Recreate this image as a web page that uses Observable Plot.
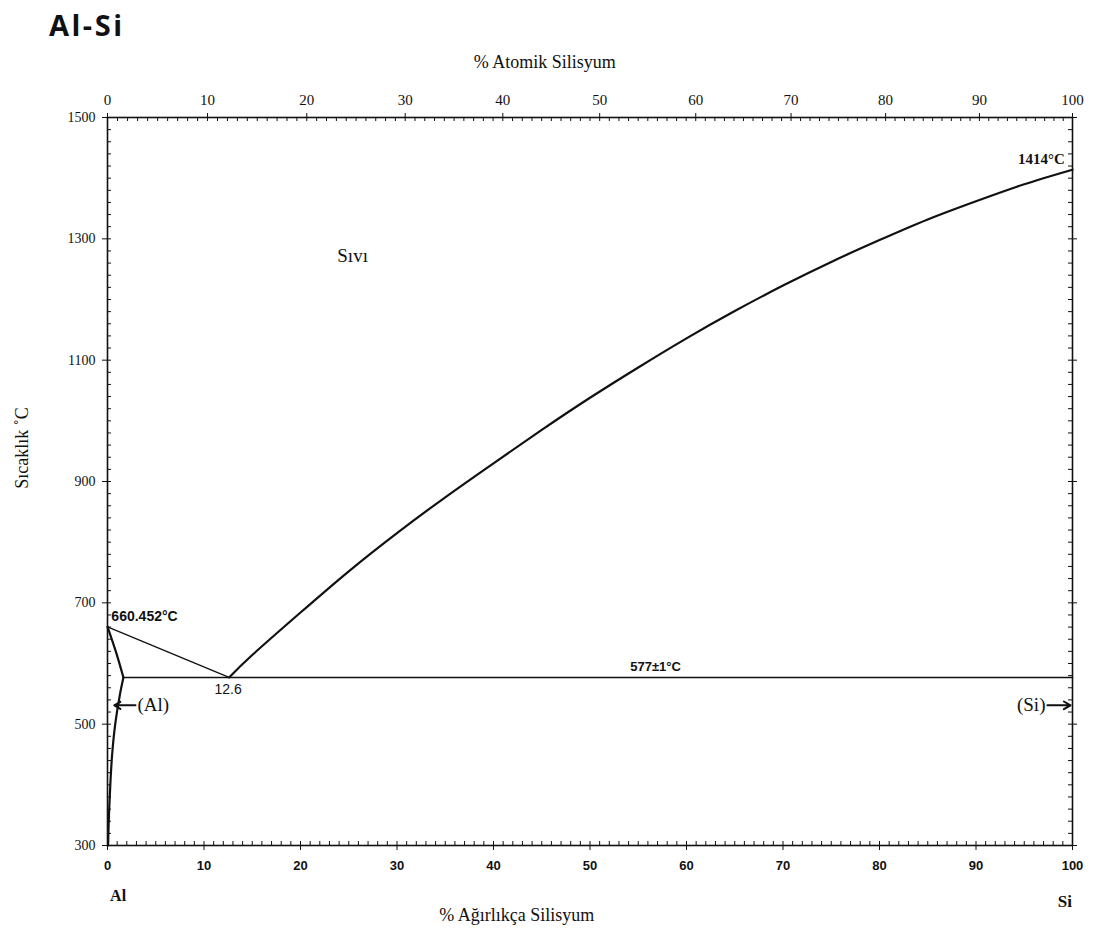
<!DOCTYPE html>
<html><head><meta charset="utf-8">
<script src="https://cdn.jsdelivr.net/npm/d3@7"></script>
<script src="https://cdn.jsdelivr.net/npm/@observablehq/plot@0.6"></script>
<style>
body{margin:0;background:#fff;}
#title{font-family:"Open Sans",sans-serif;font-weight:700;font-size:29px;letter-spacing:2.5px;height:45px;line-height:50px;padding-left:49px;color:#111;}
#chart svg{display:block;}
</style></head><body>
<div id="title">Al-Si</div>
<div id="chart"></div>
<script>
// Liquidus on the Si side (wt% Si, °C)
const liqSiW = [12.6, 15, 20, 25, 30, 35, 40, 45, 50, 55, 60, 65, 70, 75, 80, 85, 90, 95, 100];
const liqSiT = [577, 614, 684, 752, 815, 874, 930, 985, 1038, 1088, 1136, 1181, 1223, 1262, 1298, 1332, 1362, 1390, 1414];
// Liquidus on the Al side
const liqAlW = [0, 12.6];
const liqAlT = [660.452, 577];
// Solidus of (Al)
const solAlW = [0, 0.9, 1.65];
const solAlT = [660.452, 618, 577];
// Solvus of (Al)
const solvAlW = [1.65, 1.3, 0.8, 0.48, 0.29, 0.15, 0.06];
const solvAlT = [577, 550, 500, 450, 400, 350, 300];
// Eutectic isotherm
const eutW = [1.65, 100];
const eutT = [577, 577];

// Axis ticks
const wtTicks = [0, 10, 20, 30, 40, 50, 60, 70, 80, 90, 100];
const atTicks = [0, 10, 20, 30, 40, 50, 60, 70, 80, 90, 100];
const tempTicks = [300, 500, 700, 900, 1100, 1300, 1500];

// Annotations
const labels = [
  {text: "Sıvı", w: 25.4, t: 1272, anchor: "middle", font: "Liberation Serif", size: 19, weight: "normal"},
  {text: "660.452°C", w: 0.4, t: 678, anchor: "start", font: "Liberation Sans", size: 14, weight: "bold"},
  {text: "12.6", w: 12.5, t: 557, anchor: "middle", font: "Liberation Sans", size: 14, weight: "normal"},
  {text: "577±1°C", w: 56.8, t: 594, anchor: "middle", font: "Liberation Sans", size: 13, weight: "bold"},
  {text: "1414°C", w: 99.2, t: 1432, anchor: "end", font: "Liberation Serif", size: 15, weight: "bold"},
  {text: "(Al)", w: 3.1, t: 531, anchor: "start", font: "Liberation Serif", size: 19, weight: "normal"},
  {text: "(Si)", w: 97.2, t: 531, anchor: "end", font: "Liberation Serif", size: 19, weight: "normal"}
];
const arrows = [
  {w1: 2.9, w2: 0.7, t: 531},
  {w1: 97.4, w2: 99.8, t: 531}
];

const MW_Si = 28.0855, MW_Al = 26.9815;
const atToWt = a => 100 * a * MW_Si / (a * MW_Si + (100 - a) * MW_Al);

const toPts = (ws, ts) => ws.map((w, i) => ({w, t: ts[i]}));

const W = 1103, H = 893;
const mL = 107, mR = 31, mT = 72, mB = 93;
const plotW = W - mL - mR, plotH = H - mT - mB;

const atLabel = new Map(atTicks.map(a => [Math.round(atToWt(a) * 1e6), String(a)]));

const serif = "Liberation Serif, Times New Roman, serif";

const chart = Plot.plot({
  width: W, height: H,
  marginLeft: mL, marginRight: mR, marginTop: mT, marginBottom: mB,
  x: {domain: [0, 100]},
  y: {domain: [300, 1500]},
  style: {background: "#fff", color: "#111"},
  marks: [
    Plot.frame({stroke: "#111", strokeWidth: 1.6}),
    // inward minor ticks
    Plot.tickX(d3.range(0, 101), {x: d => d, insetTop: plotH - 4, stroke: "#111"}),
    Plot.tickX(d3.range(0, 101).map(atToWt), {x: d => d, insetBottom: plotH - 4, stroke: "#111"}),
    Plot.tickY(d3.range(300, 1501, 20), {y: d => d, insetRight: plotW - 4, stroke: "#111"}),
    Plot.tickY(d3.range(300, 1501, 20), {y: d => d, insetLeft: plotW - 4, stroke: "#111"}),
    // axes
    Plot.axisX(wtTicks, {anchor: "bottom", tickSize: 5, tickPadding: 10, fontSize: 13, fontWeight: "bold", fontFamily: "Liberation Sans, Arial, sans-serif", label: null, tickFormat: d => String(d)}),
    Plot.axisX(atTicks.map(atToWt), {anchor: "top", tickSize: 5, tickPadding: 8, fontSize: 15, fontFamily: serif, label: null, tickFormat: d => atLabel.get(Math.round(d * 1e6))}),
    Plot.axisY(tempTicks, {anchor: "left", tickSize: 5, tickPadding: 7, fontSize: 14, fontFamily: serif, label: null, tickFormat: d => String(d)}),
    Plot.axisY(tempTicks, {anchor: "right", tickSize: 4, label: null, tickFormat: () => ""}),
    // axis titles
    Plot.text(["% Atomik Silisyum"], {x: 45.3, frameAnchor: "top", dy: -62, fontSize: 18, fontFamily: serif}),
    Plot.text(["% Ağırlıkça Silisyum"], {x: 42.4, frameAnchor: "bottom", dy: 75, fontSize: 18, fontFamily: serif}),
    Plot.text(["Sıcaklık ˚C"], {y: 888, frameAnchor: "left", dx: -85, rotate: -90, fontSize: 18, fontFamily: serif}),
    Plot.text(["Al"], {x: 1.1, frameAnchor: "bottom", dy: 55, fontSize: 16, fontWeight: "bold", fontFamily: serif}),
    Plot.text(["Si"], {x: 99.2, frameAnchor: "bottom", dy: 61, fontSize: 17, fontWeight: "bold", fontFamily: serif}),
    // phase boundaries
    Plot.line(toPts(liqAlW, liqAlT), {x: "w", y: "t", stroke: "#111", strokeWidth: 1.3}),
    Plot.line(toPts(solAlW, solAlT), {x: "w", y: "t", stroke: "#111", strokeWidth: 2.2, curve: "catmull-rom"}),
    Plot.line(toPts(solvAlW, solvAlT), {x: "w", y: "t", stroke: "#111", strokeWidth: 2.2, curve: "catmull-rom"}),
    Plot.line(toPts(eutW, eutT), {x: "w", y: "t", stroke: "#111", strokeWidth: 1.6}),
    Plot.line(toPts(liqSiW, liqSiT), {x: "w", y: "t", stroke: "#111", strokeWidth: 2.2, curve: "natural"}),
    // arrows
    Plot.arrow(arrows, {x1: "w1", x2: "w2", y1: "t", y2: "t", stroke: "#111", strokeWidth: 2, headLength: 7}),
    // annotations
    ...labels.map(l => Plot.text([l], {x: "w", y: "t", text: "text", textAnchor: l.anchor, fontFamily: l.font, fontSize: l.size, fontWeight: l.weight, fill: "#111"}))
  ]
});
document.getElementById("chart").appendChild(chart);
</script>
</body></html>
